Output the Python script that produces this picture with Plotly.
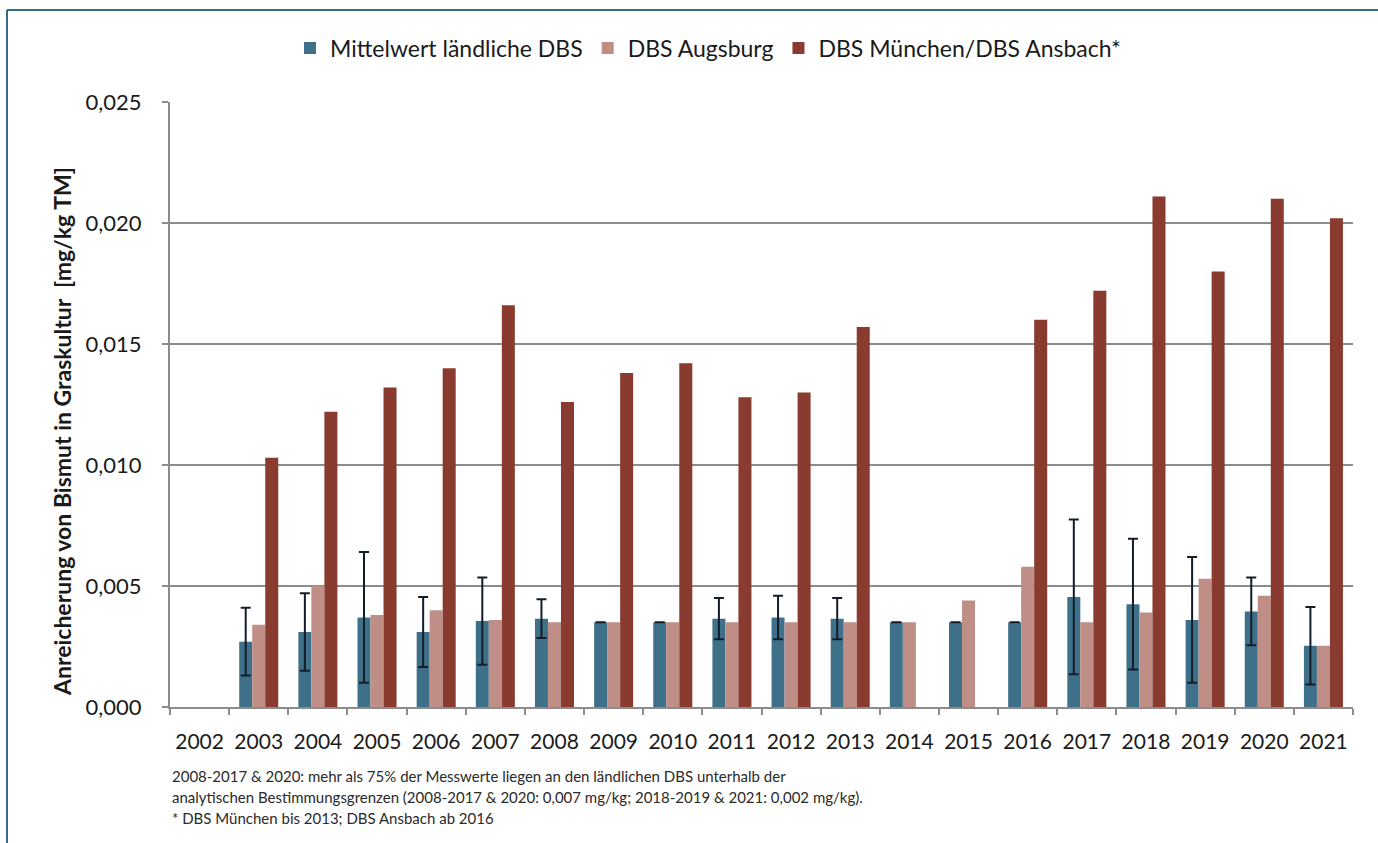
import plotly.graph_objects as go

# Jahre und Messwerte (Bismut in Graskultur, mg/kg TM)
years = [str(y) for y in range(2002, 2022)]

mittelwert_laendlich = [None, 0.0027, 0.0031, 0.0037, 0.0031, 0.00355, 0.00365, 0.0035, 0.0035,
                        0.00365, 0.0037, 0.00365, 0.0035, 0.0035, 0.0035, 0.00455, 0.00425,
                        0.0036, 0.00395, 0.00253]
std_laendlich = [None, 0.0014, 0.0016, 0.0027, 0.00145, 0.0018, 0.0008, 0.0, 0.0,
                 0.00085, 0.0009, 0.00085, 0.0, 0.0, 0.0, 0.0032, 0.0027,
                 0.0026, 0.0014, 0.0016]
augsburg = [None, 0.0034, 0.0050, 0.0038, 0.0040, 0.0036, 0.0035, 0.0035, 0.0035,
            0.0035, 0.0035, 0.0035, 0.0035, 0.0044, 0.0058, 0.0035, 0.0039,
            0.0053, 0.0046, 0.00253]
muenchen_ansbach = [None, 0.0103, 0.0122, 0.0132, 0.0140, 0.0166, 0.0126, 0.0138, 0.0142,
                    0.0128, 0.0130, 0.0157, None, None, 0.0160, 0.0172, 0.0211,
                    0.0180, 0.0210, 0.0202]

series_names = ["Mittelwert ländliche DBS", "DBS Augsburg", "DBS München/DBS Ansbach*"]
series_colors = ["#3f7089", "#bf8f87", "#8a3b2f"]

footnotes = [
    "2008-2017 & 2020: mehr als 75% der Messwerte liegen an den ländlichen DBS unterhalb der",
    "analytischen Bestimmungsgrenzen (2008-2017 & 2020: 0,007 mg/kg; 2018-2019 & 2021: 0,002 mg/kg).",
    "* DBS München bis 2013; DBS Ansbach ab 2016",
]

FONT = "Lato"
W, H = 1378, 843
L, R, T, B = 170, 25, 102, 136
pw, ph = W - L - R, H - T - B


def px(x):
    return (x - L) / pw


def py(y):
    return (H - B - y) / ph


fig = go.Figure()
fig.add_trace(go.Bar(
    x=years, y=mittelwert_laendlich, name=series_names[0],
    marker=dict(color=series_colors[0], line=dict(width=0)),
    error_y=dict(type="data", array=std_laendlich, visible=True,
                 color="#141c2a", thickness=2, width=5),
))
fig.add_trace(go.Bar(
    x=years, y=augsburg, name=series_names[1],
    marker=dict(color=series_colors[1], line=dict(width=0)),
))
fig.add_trace(go.Bar(
    x=years, y=muenchen_ansbach, name=series_names[2],
    marker=dict(color=series_colors[2], line=dict(width=0)),
))

annotations = [
    dict(text="<b>Anreicherung von Bismut in Graskultur  [mg/kg TM]</b>",
         x=px(62), y=py(432), xref="paper", yref="paper", showarrow=False,
         textangle=-90, xanchor="center", yanchor="middle",
         font=dict(family=FONT, size=23, color="#1a1a1a")),
]
for i, line in enumerate(footnotes):
    annotations.append(dict(
        text=line, x=px(170), y=py(776 + 21 * i), xref="paper", yref="paper",
        showarrow=False, xanchor="left", yanchor="middle",
        font=dict(family=FONT, size=15, color="#2a2a2a")))

shapes = [
    dict(type="line", xref="paper", yref="paper", x0=px(7), x1=px(W), y0=py(10), y1=py(10),
         line=dict(color="#3c6a84", width=2)),
    dict(type="line", xref="paper", yref="paper", x0=px(7), x1=px(7), y0=py(10), y1=py(H),
         line=dict(color="#3c6a84", width=2)),
]

fig.update_layout(
    width=W, height=H,
    margin=dict(l=L, r=R, t=T, b=B, pad=0),
    paper_bgcolor="white", plot_bgcolor="white",
    separators=",.",
    barmode="group", bargap=0.34, bargroupgap=0,
    font=dict(family=FONT, size=22, color="#1a1a1a"),
    legend=dict(orientation="h", x=px(708), y=py(48), xanchor="center", yanchor="middle",
                font=dict(family=FONT, size=23, color="#1a1a1a"),
                itemwidth=30, traceorder="normal", bgcolor="rgba(0,0,0,0)"),
    annotations=annotations,
    shapes=shapes,
    xaxis=dict(type="category", range=[-0.5, 19.5], showline=True, linecolor="#8c8c8c",
               linewidth=2, ticks="outside", tickson="boundaries", ticklen=6,
               tickcolor="#8c8c8c", tickwidth=2, showgrid=False, ticklabelstandoff=15,
               tickangle=0, automargin=False,
               tickfont=dict(family=FONT, size=21, color="#1a1a1a")),
    yaxis=dict(range=[0, 0.025], dtick=0.005, tickformat=".3f", showline=True,
               linecolor="#8c8c8c", linewidth=2, ticks="outside", ticklen=6,
               tickcolor="#8c8c8c", tickwidth=2, showgrid=True, gridcolor="#8c8c8c",
               gridwidth=2, zeroline=False, ticklabelstandoff=16, automargin=False,
               tickfont=dict(family=FONT, size=22, color="#1a1a1a")),
)

fig.write_html("out.html")
